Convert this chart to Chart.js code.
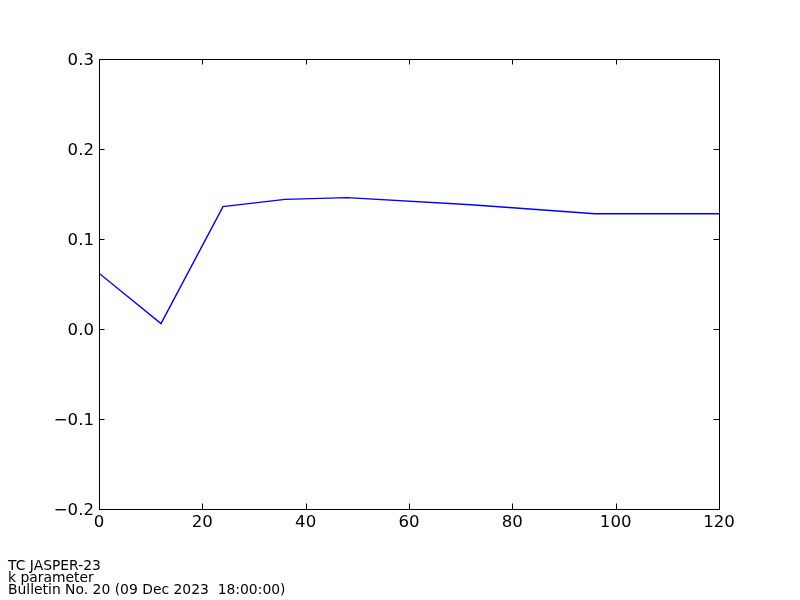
<!DOCTYPE html>
<html>
<head>
<meta charset="utf-8">
<script src="https://cdn.jsdelivr.net/npm/chart.js@4"></script>
<style>
  html, body { margin: 0; padding: 0; background: #fff; }
  #wrap { position: relative; width: 800px; height: 600px; }
  #footer { position: absolute; left: 8px; top: 560px; font-family: "DejaVu Sans", sans-serif;
            font-size: 13.9px; line-height: 11.8px; color: #000; white-space: pre; }
</style>
</head>
<body>
<div id="wrap">
  <canvas id="c" width="800" height="600"></canvas>
  <div id="footer">TC JASPER-23
k parameter
Bulletin No. 20 (09 Dec 2023  18:00:00)</div>
</div>
<script>
const forecastHours = [0, 12, 24, 36, 48, 72, 96, 120];
const kParameter = [0.062, 0.006, 0.136, 0.144, 0.146, 0.138, 0.128, 0.128];
const xTicks = [0, 20, 40, 60, 80, 100, 120];
const yTicks = [-0.2, -0.1, 0.0, 0.1, 0.2, 0.3];

const tickFont = { family: "DejaVu Sans", size: 16.6 };

const frameAndTicks = {
  id: 'frameAndTicks',
  afterDraw(chart) {
    const { ctx, chartArea: a, scales } = chart;
    const L = 5.5;
    ctx.save();
    ctx.strokeStyle = '#000';
    ctx.lineWidth = 1;
    ctx.beginPath();
    xTicks.forEach(v => {
      const x = Math.round(scales.x.getPixelForValue(v)) + 0.5;
      ctx.moveTo(x, a.bottom); ctx.lineTo(x, a.bottom - L);
      ctx.moveTo(x, a.top); ctx.lineTo(x, a.top + L);
    });
    yTicks.forEach(v => {
      const y = Math.round(scales.y.getPixelForValue(v)) + 0.5;
      ctx.moveTo(a.left, y); ctx.lineTo(a.left + L, y);
      ctx.moveTo(a.right, y); ctx.lineTo(a.right - L, y);
    });
    ctx.stroke();
    ctx.strokeRect(Math.round(a.left) + 0.5, Math.round(a.top) + 0.5,
                   Math.round(a.right - a.left), Math.round(a.bottom - a.top));
    ctx.restore();
  }
};

new Chart(document.getElementById('c'), {
  type: 'line',
  data: {
    datasets: [{
      data: forecastHours.map((h, i) => ({ x: h, y: kParameter[i] })),
      borderColor: '#0000ff',
      borderWidth: 1.4,
      pointRadius: 0,
      tension: 0,
      fill: false
    }]
  },
  options: {
    responsive: false,
    animation: false,
    layout: { padding: { left: 0, top: 59, right: 81, bottom: 0 } },
    plugins: { legend: { display: false }, tooltip: { enabled: false } },
    scales: {
      x: {
        type: 'linear', min: 0, max: 120,
        grid: { display: false, drawTicks: false },
        border: { display: false },
        afterFit(s) { s.height = 91; },
        afterBuildTicks(s) { s.ticks = xTicks.map(v => ({ value: v })); },
        ticks: { color: '#000', font: tickFont, padding: 4, maxRotation: 0,
                 callback: v => String(v) }
      },
      y: {
        type: 'linear', min: -0.2, max: 0.3,
        grid: { display: false, drawTicks: false },
        border: { display: false },
        afterFit(s) { s.width = 99; },
        afterBuildTicks(s) { s.ticks = yTicks.map(v => ({ value: v })); },
        ticks: { color: '#000', font: tickFont, padding: 5, labelOffset: 1.5,
                 callback: v => (Math.abs(v) < 1e-9 ? 0 : v).toFixed(1).replace('-', '\u2212') }
      }
    }
  },
  plugins: [frameAndTicks]
});
</script>
</body>
</html>
